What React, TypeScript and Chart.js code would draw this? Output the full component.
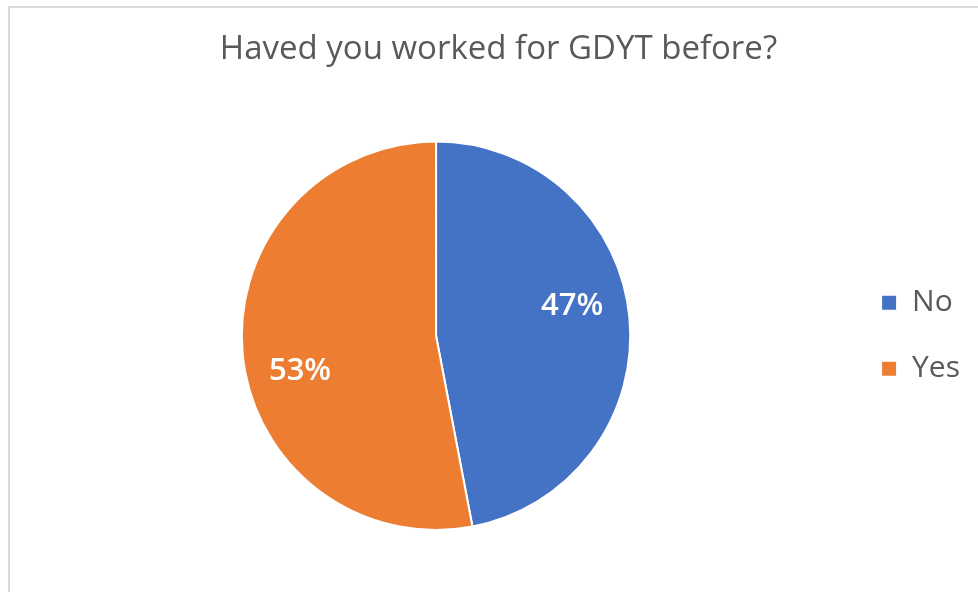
import React, { useEffect, useRef } from "react";
import { Chart, registerables } from "chart.js";

Chart.register(...registerables);

const TITLE = "Haved you worked for GDYT before?";
const CATEGORIES = ["No", "Yes"];
const VALUES = [47, 53];
const COLORS = ["#4472C4", "#ED7D31"];
const FONT = "'Open Sans', Lato, sans-serif";

const pieLabels = {
  id: "pieLabels",
  afterDatasetsDraw(chart: any) {
    const ctx = chart.ctx;
    const meta = chart.getDatasetMeta(0);
    const data = chart.data.datasets[0].data as number[];
    const total = data.reduce((a: number, b: number) => a + b, 0);
    ctx.save();
    ctx.fillStyle = "#ffffff";
    ctx.font = `600 31px ${FONT}`;
    ctx.textAlign = "center";
    ctx.textBaseline = "middle";
    meta.data.forEach((arc: any, i: number) => {
      const { x, y, startAngle, endAngle, outerRadius } = arc.getProps(
        ["x", "y", "startAngle", "endAngle", "outerRadius"],
        true
      );
      const mid = (startAngle + endAngle) / 2 - (8 * Math.PI) / 180;
      const r = outerRadius * 0.72;
      const pct = Math.round((data[i] / total) * 100) + "%";
      ctx.fillText(pct, x + Math.cos(mid) * r, y + Math.sin(mid) * r + 3);
    });
    ctx.restore();
  },
};

export default function App() {
  const ref = useRef<HTMLCanvasElement>(null);
  useEffect(() => {
    document.body.style.margin = "0";
    const chart = new Chart(ref.current!, {
      type: "pie",
      data: {
        labels: CATEGORIES,
        datasets: [
          {
            data: VALUES,
            backgroundColor: COLORS,
            borderColor: "#ffffff",
            borderWidth: 2,
          },
        ],
      },
      options: {
        animation: false,
        responsive: false,
        layout: { padding: { left: 27, right: 8, top: 0, bottom: 61 } },
        plugins: {
          title: {
            display: true,
            text: TITLE,
            color: "#595959",
            font: { family: FONT, size: 33, weight: "normal" },
            padding: { top: 30, bottom: 71 },
          },
          legend: {
            position: "right",
            fullSize: false,
            labels: {
              boxWidth: 16,
              boxHeight: 16,
              padding: 36,
              color: "#595959",
              font: { family: FONT, size: 30 },
            },
          },
          tooltip: { enabled: false },
        },
      },
      plugins: [pieLabels],
    });
    return () => chart.destroy();
  }, []);
  return (
    <div style={{ position: "relative", width: 978, height: 592, overflow: "hidden", background: "#fff" }}>
      <div
        style={{
          position: "absolute",
          left: 8,
          top: 6,
          width: 1000,
          height: 640,
          border: "2px solid #d9d9d9",
        }}
      />
      <canvas ref={ref} width={978} height={592} style={{ position: "absolute", left: 0, top: 0 }} />
    </div>
  );
}
